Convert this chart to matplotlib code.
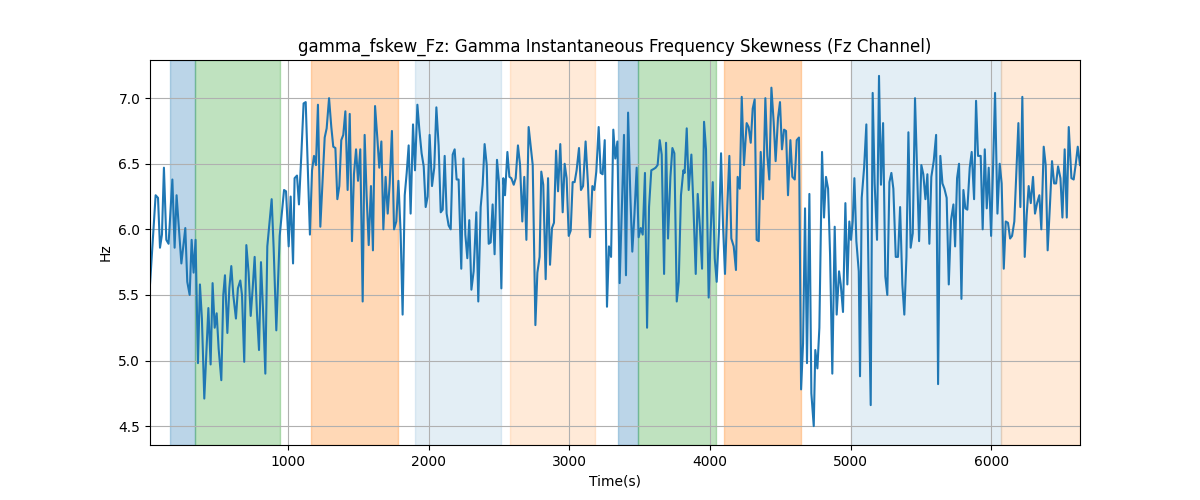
import numpy as np
import matplotlib
matplotlib.use('Agg')
import matplotlib.pyplot as plt

# time (s) and skewness values
times = [19, 59, 76, 90, 104, 118, 135, 151, 178, 194, 208, 242, 270, 284, 301, 315,
         329, 343, 360, 374, 388, 405, 434, 450, 464, 479, 493, 507, 526, 540, 552, 569,
         583, 597, 611, 630, 644, 661, 673, 689, 704, 720, 735, 749, 763, 780, 794, 808,
         822, 839, 853, 867, 884, 898, 917, 941, 972, 986, 1005, 1019, 1036, 1047, 1064,
         1078, 1095, 1111,
         1126, 1156, 1171, 1185, 1199, 1213, 1230, 1261, 1275, 1292, 1308, 1322, 1337,
         1351, 1365, 1379, 1393, 1408, 1424, 1439, 1455, 1469, 1484, 1498, 1514, 1531,
         1545, 1559, 1574, 1590, 1604, 1619, 1635, 1649, 1664, 1678, 1694, 1709, 1723,
         1739, 1754, 1770, 1785, 1801, 1815, 1830, 1844, 1858, 1872, 1889, 1903, 1920,
         1934, 1950, 1965, 1979, 1993, 2007, 2024, 2040, 2055, 2071, 2086, 2100, 2114,
         2128, 2142, 2157, 2171, 2185, 2199, 2213, 2232, 2247, 2261, 2275, 2289, 2304,
         2320, 2339, 2353, 2370, 2384, 2398, 2413, 2427, 2441, 2455, 2469, 2486, 2500,
         2517, 2531, 2543, 2560, 2574, 2588, 2605, 2619, 2635, 2650, 2666, 2680, 2695,
         2711, 2725, 2740, 2759, 2773, 2789, 2801, 2815, 2832, 2849, 2863, 2877, 2891,
         2906, 2920, 2936, 2953, 2967, 2981, 2996, 3010, 3024, 3038, 3052, 3069, 3083,
         3098, 3116, 3133, 3147, 3164, 3178,
         3192, 3209, 3223, 3237, 3252, 3268, 3282, 3297, 3313, 3327, 3342, 3358, 3389,
         3403, 3418, 3434, 3448, 3463, 3479, 3493, 3508, 3522, 3538, 3553, 3567, 3583,
         3600, 3614, 3628, 3643, 3657, 3674, 3688, 3702, 3719, 3733, 3747, 3764, 3778,
         3794, 3811, 3820, 3835, 3849, 3868, 3882, 3899, 3913, 3929, 3944, 3958, 3972,
         3991, 4005, 4020, 4034, 4048, 4065, 4079, 4093, 4107, 4124, 4138, 4152, 4169,
         4185, 4197, 4212, 4226, 4242,
         4261, 4275, 4290, 4304, 4318, 4332, 4347, 4361, 4377, 4394, 4408, 4422, 4437,
         4453, 4467, 4484, 4498, 4512, 4527, 4541, 4555, 4572, 4586, 4603, 4617, 4633,
         4648, 4662, 4676, 4690, 4707, 4721, 4738, 4749, 4764, 4778, 4797, 4811, 4825,
         4840, 4854, 4870, 4887, 4901, 4918, 4930, 4946, 4963, 4977, 4991, 5003, 5015,
         5027, 5041, 5058, 5067, 5079, 5096, 5112, 5129, 5143, 5157, 5171, 5188, 5202,
         5216, 5231, 5247, 5261, 5276, 5290, 5304,
         5321, 5337, 5352, 5368, 5382, 5397, 5411, 5427, 5442, 5458, 5472, 5487, 5503,
         5517, 5532, 5546, 5560, 5574, 5591, 5608, 5622, 5638, 5653, 5667, 5683, 5698,
         5714, 5731, 5743, 5757, 5771, 5788, 5802, 5816, 5830, 5847, 5861, 5878, 5892,
         5906, 5925, 5939, 5954, 5968, 5982, 5999, 6013, 6027, 6044, 6060, 6074, 6089,
         6103, 6119, 6134, 6148, 6164, 6181, 6193, 6207, 6221, 6238, 6252, 6266, 6281,
         6297, 6311, 6326, 6342, 6356, 6373, 6387, 6401, 6418, 6432, 6447, 6461, 6475,
         6492, 6506, 6522, 6537, 6551, 6570, 6586, 6601, 6615, 6631]

values = [5.58, 6.26, 6.24, 5.86, 5.96, 6.47, 5.92, 5.89, 6.38, 5.86, 6.26, 5.74, 6.01,
          5.60, 5.50, 5.92, 5.67, 5.92, 4.98, 5.58, 5.32, 4.71, 5.40, 4.97, 5.59, 5.25,
          5.36, 5.09, 4.85, 5.50, 5.65, 5.21, 5.55, 5.72, 5.50, 5.32, 5.55, 5.61, 5.50,
          4.99, 5.88, 5.67, 5.34, 5.55, 5.79, 5.35, 5.08, 5.75, 5.40, 4.90, 5.87, 6.03,
          6.23, 5.86, 5.23, 5.95, 6.30, 6.29, 5.87, 6.25, 5.74, 6.39, 6.41, 6.19, 6.57,
          6.96,
          6.97, 5.96, 6.45, 6.56, 6.49, 6.95, 6.02, 6.70, 6.77, 7.00, 6.78, 6.63, 6.62,
          6.23, 6.33, 6.68, 6.72, 6.90, 6.30, 6.88, 5.91, 6.42, 6.61, 6.37, 6.61, 5.45,
          6.72, 6.26, 5.88, 6.33, 5.84, 6.94, 6.70, 6.47, 6.67, 6.00, 6.40, 6.12, 6.35,
          6.75, 6.00, 6.06, 6.37, 5.97, 5.35, 6.26, 6.43, 6.64, 6.12, 6.80, 6.45, 6.95,
          6.76, 6.58, 6.48, 6.17, 6.25, 6.72, 6.33, 6.47, 6.93, 6.64, 6.13, 6.15, 6.56,
          6.12, 6.03, 6.00, 6.57, 6.61, 6.38, 6.38, 5.70, 6.54, 5.96, 5.78, 6.07, 5.54,
          5.68, 6.13, 5.45, 6.17, 6.34, 6.65, 6.49, 5.89, 5.90, 6.19, 5.81, 6.53, 6.36,
          5.55, 6.39, 6.26, 6.59, 6.40, 6.39, 6.34, 6.39, 6.64, 6.49, 6.06, 6.40, 5.92,
          6.78, 6.64, 6.49, 5.27, 5.67, 5.79, 6.44, 6.34, 5.62, 6.39, 5.73, 6.01, 6.05,
          6.60, 6.29, 6.65, 6.13, 6.50, 6.39, 5.95, 5.99, 6.36, 6.36, 6.45, 6.62, 6.30,
          6.33, 6.67, 6.34, 5.94, 6.33, 6.30,
          6.44, 6.78, 6.43, 6.42, 6.68, 5.41, 5.87, 5.79, 6.76, 6.54, 6.67, 5.59, 6.72,
          5.65, 6.89, 6.26, 5.83, 6.11, 6.47, 5.94, 6.01, 5.96, 6.43, 5.25, 6.17, 6.45,
          6.46, 6.47, 6.49, 6.68, 6.57, 5.66, 6.66, 5.93, 6.40, 6.62, 6.58, 5.45, 5.60,
          6.26, 6.45, 6.43, 6.77, 6.30, 6.57, 6.19, 5.66, 6.27, 6.01, 5.70, 6.82, 6.61,
          5.48, 5.98, 6.36, 5.78, 5.60, 6.01, 6.58, 6.03, 5.66, 6.19, 6.56, 5.93, 5.87,
          5.69, 6.40, 6.31, 7.01, 6.49,
          6.81, 6.78, 6.66, 6.92, 6.99, 5.92, 5.91, 6.59, 6.23, 7.00, 6.56, 6.38, 7.08,
          6.82, 6.52, 6.85, 6.97, 6.61, 6.76, 6.75, 6.26, 6.68, 6.40, 6.38, 6.68, 6.70,
          4.78, 5.13, 6.16, 4.98, 6.27, 4.75, 4.50, 5.08, 4.94, 5.25, 6.59, 6.09, 6.40,
          6.31, 5.81, 4.90, 6.02, 5.35, 5.68, 5.58, 5.37, 6.20, 5.58, 6.06, 5.92, 6.06,
          6.39, 5.91, 5.68, 4.88, 6.24, 6.47, 6.80, 5.55, 4.66, 7.04, 6.35, 5.92, 7.17,
          6.34, 6.81, 5.64, 5.50, 6.36, 6.43, 6.31,
          5.79, 5.79, 6.17, 5.58, 5.35, 5.79, 6.74, 5.86, 5.97, 7.00, 6.48, 5.91, 6.49,
          6.42, 6.23, 6.42, 5.89, 6.40, 6.52, 6.72, 4.82, 6.56, 6.35, 6.31, 6.24, 5.58,
          6.07, 6.19, 5.87, 6.39, 6.50, 5.47, 6.30, 6.16, 6.15, 6.47, 6.59, 6.23, 6.98,
          6.56, 6.56, 6.00, 6.61, 6.16, 6.47, 5.95, 6.48, 7.04, 6.12, 6.50, 6.35, 5.70,
          6.06, 6.05, 5.93, 5.95, 6.06, 6.50, 6.81, 6.17, 7.01, 5.79, 6.11, 6.33, 6.20,
          6.40, 6.12, 6.20, 6.26, 6.00, 6.63, 6.49, 5.84, 6.20, 6.52, 6.35, 6.35, 6.48,
          6.39, 6.09, 6.61, 6.09, 6.78, 6.39, 6.38, 6.50, 6.63, 6.49]

# shaded intervals: (start, end, colour, alpha)
span_starts = [159, 341, 1161, 1901, 2576, 3344, 3489, 4098, 5006, 6067]
span_ends = [341, 946, 1785, 2517, 3185, 3489, 4046, 4650, 6067, 6631]
span_colors = ['tab:blue', 'tab:green', 'tab:orange', 'tab:blue', 'tab:orange',
               'tab:blue', 'tab:green', 'tab:orange', 'tab:blue', 'tab:orange']
span_alphas = [0.3, 0.3, 0.3, 0.12, 0.16, 0.3, 0.3, 0.3, 0.12, 0.16]

fig, ax = plt.subplots(figsize=(12, 5), dpi=100)
for s, e, c, a in zip(span_starts, span_ends, span_colors, span_alphas):
    ax.axvspan(s, e, color=c, alpha=a)
ax.plot(times, values, color='tab:blue', linewidth=1.5)
ax.set_xlim(19, 6631)
ax.set_ylim(4.356, 7.291)
ax.grid(True)
ax.set_title('gamma_fskew_Fz: Gamma Instantaneous Frequency Skewness (Fz Channel)')
ax.set_xlabel('Time(s)')
ax.set_ylabel('Hz')
plt.savefig('out.png')
